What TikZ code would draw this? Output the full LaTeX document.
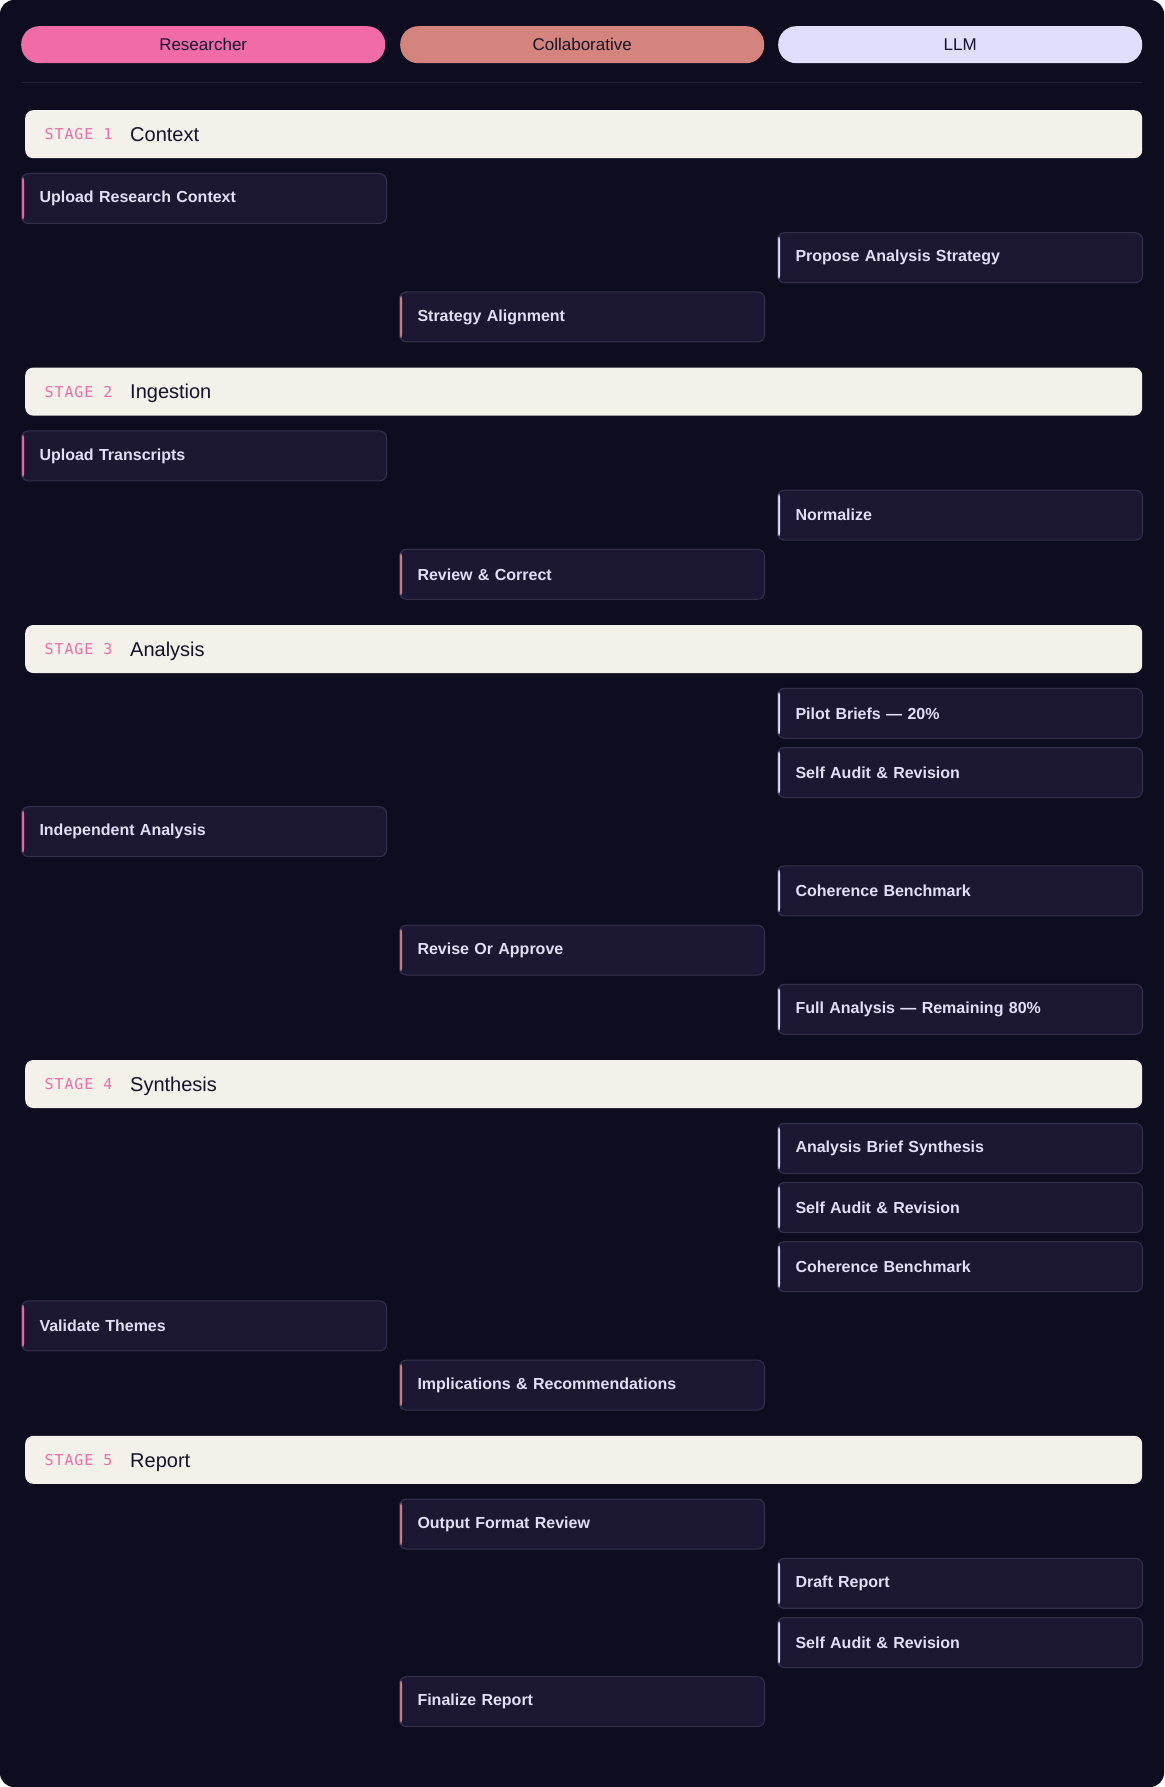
\documentclass[tikz,border=0pt]{standalone}
\usepackage{fontspec}
\setmainfont{Liberation Sans}
\newfontfamily\monofam[LetterSpace=6]{DejaVu Sans Mono}
\usetikzlibrary{positioning}

\definecolor{bgdark}{HTML}{0E0D20}
\definecolor{cardfill}{HTML}{1C1834}
\definecolor{cardline}{HTML}{34304C}
\definecolor{cardtext}{HTML}{E2DEF8}
\definecolor{rescol}{HTML}{F06BA8}
\definecolor{colcol}{HTML}{D4847C}
\definecolor{llmcol}{HTML}{E0DEFC}
\definecolor{stagefill}{HTML}{F4F1EA}
\definecolor{inkdark}{HTML}{15122A}
\definecolor{divider}{HTML}{25233A}

\begin{document}
\begin{tikzpicture}[x=1pt, y=-1pt,
		pill/.style={rounded corners=18pt, minimum width=364pt, minimum height=37pt, anchor=north west, inner sep=0pt, text=inkdark, font=\fontsize{17}{20}\selectfont},
		stagebar/.style={fill=stagefill, rounded corners=8pt, minimum width=1117pt, minimum height=48pt, anchor=north west, inner sep=0pt},
		stagetag/.style={anchor=west, inner sep=0pt, text=rescol, font=\monofam\fontsize{15}{18}\selectfont},
		stagename/.style={anchor=base west, inner sep=0pt, text=inkdark, font=\fontsize{20}{24}\selectfont},
		card/.style={draw=cardline, line width=1pt, fill=cardfill, rounded corners=7pt, anchor=north west, minimum height=50pt, text width=329pt, inner xsep=18pt, inner ysep=0pt, align=left, text=cardtext, font=\fontsize{16}{19}\selectfont\bfseries,
			path picture={\fill[#1] (path picture bounding box.south west) rectangle ([xshift=2.5pt]path picture bounding box.north west);}},
		res/.style={card=rescol},
		col/.style={card=colcol},
		llm/.style={card=llmcol}]
		\useasboundingbox (0,0) rectangle (1164,1787);
		\fill[white] (0,0) rectangle (1164,1787);
		\fill[bgdark, rounded corners=14pt] (0,0) rectangle (1164,1787);
		
		% lanes
		\node[pill, fill=rescol] (hdres) at (21,26) {Researcher};
		\node[pill, fill=colcol] (hdcol) at (400,26) {Collaborative};
		\node[pill, fill=llmcol] (hdllm) at (778,26) {LLM};
		\draw[divider, line width=1pt] ([yshift=-19pt]hdres.south west) -- ([yshift=-19pt]hdllm.south east);
		
		% stage 1
		\node[stagebar] (st1) at (25,110) {};
		\node[stagetag] (st1tag) at ([xshift=19.5pt]st1.west) {STAGE 1};
		\node[stagename] (st1name) at ([xshift=105pt, yshift=-7.2pt]st1.west) {Context};
		\node[res] (upctx) at (21,173) {Upload Research Context};
		\node[llm] (propose) at (777,232.2) {Propose Analysis Strategy};
		\node[col] (align) at (399,291.4) {Strategy Alignment};
		
		% stage 2
		\node[stagebar] (st2) at (25,367.4) {};
		\node[stagetag] (st2tag) at ([xshift=19.5pt]st2.west) {STAGE 2};
		\node[stagename] (st2name) at ([xshift=105pt, yshift=-7.2pt]st2.west) {Ingestion};
		\node[res] (uptrans) at (21,430.4) {Upload Transcripts};
		\node[llm] (normal) at (777,489.6) {Normalize};
		\node[col] (review) at (399,548.8) {Review \& Correct};
		
		% stage 3
		\node[stagebar] (st3) at (25,624.8) {};
		\node[stagetag] (st3tag) at ([xshift=19.5pt]st3.west) {STAGE 3};
		\node[stagename] (st3name) at ([xshift=105pt, yshift=-7.2pt]st3.west) {Analysis};
		\node[llm] (pilot) at (777,687.8) {Pilot Briefs — 20\%};
		\node[llm] (audita) at (777,747) {Self Audit \& Revision};
		\node[res] (indep) at (21,806.2) {Independent Analysis};
		\node[llm] (bencha) at (777,865.4) {Coherence Benchmark};
		\node[col] (revise) at (399,924.6) {Revise Or Approve};
		\node[llm] (full) at (777,983.8) {Full Analysis — Remaining 80\%};
		
		% stage 4
		\node[stagebar] (st4) at (25,1059.8) {};
		\node[stagetag] (st4tag) at ([xshift=19.5pt]st4.west) {STAGE 4};
		\node[stagename] (st4name) at ([xshift=105pt, yshift=-7.2pt]st4.west) {Synthesis};
		\node[llm] (brief) at (777,1122.8) {Analysis Brief Synthesis};
		\node[llm] (auditb) at (777,1182) {Self Audit \& Revision};
		\node[llm] (benchb) at (777,1241.2) {Coherence Benchmark};
		\node[res] (themes) at (21,1300.4) {Validate Themes};
		\node[col] (implic) at (399,1359.6) {Implications \& Recommendations};
		
		% stage 5
		\node[stagebar] (st5) at (25,1435.6) {};
		\node[stagetag] (st5tag) at ([xshift=19.5pt]st5.west) {STAGE 5};
		\node[stagename] (st5name) at ([xshift=105pt, yshift=-7.2pt]st5.west) {Report};
		\node[col] (format) at (399,1498.6) {Output Format Review};
		\node[llm] (draft) at (777,1557.8) {Draft Report};
		\node[llm] (auditc) at (777,1617) {Self Audit \& Revision};
		\node[col] (final) at (399,1676.2) {Finalize Report};
		
	\end{tikzpicture}
\end{document}
